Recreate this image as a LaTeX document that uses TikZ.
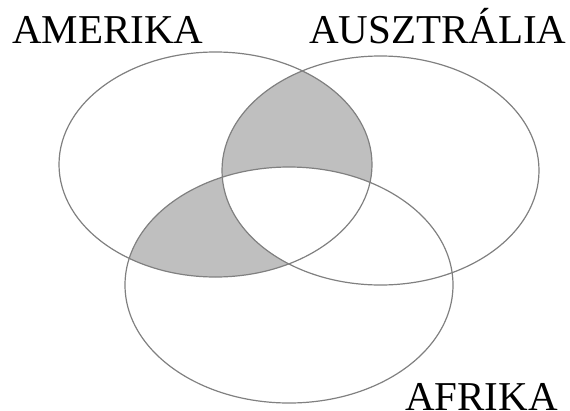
\documentclass[tikz,border=0pt]{standalone}
\usepackage{fontspec}
\setmainfont{Liberation Serif}
\begin{document}
\begin{tikzpicture}[x=1pt,y=-1pt,
  setline/.style={draw=black!50, line width=1.2pt},
  lbl/.style={anchor=base west, inner sep=0pt, font=\fontsize{41}{44}\selectfont}]
\useasboundingbox (0,0) rectangle (570,410);
\def\amerika{(215.5,164.5) ellipse [x radius=156.5pt, y radius=112.5pt]}
\def\ausz{(380.5,170.5) ellipse [x radius=158.5pt, y radius=114.5pt]}
\def\afrika{(289,285) ellipse [x radius=164pt, y radius=118pt]}
\begin{scope}
  \clip \amerika;
  \fill[black!25, even odd rule] \ausz \afrika;
\end{scope}
\draw[setline] \amerika;
\draw[setline] \ausz;
\draw[setline] \afrika;
\node[lbl] (am) at (12,43) {AMERIKA};
\node[lbl] (au) at (309,43) {AUSZTRÁLIA};
\node[lbl] (af) at (405,410) {AFRIKA};
\end{tikzpicture}
\end{document}
